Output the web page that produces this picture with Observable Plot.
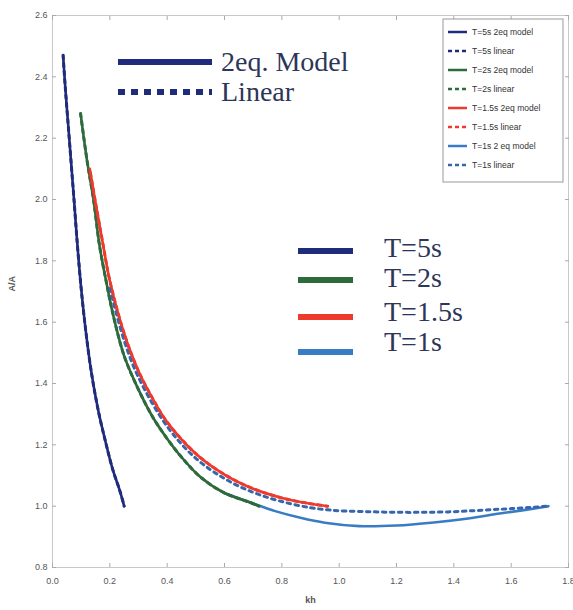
<!DOCTYPE html>
<html><head><meta charset="utf-8">
<script src="https://cdn.jsdelivr.net/npm/d3@7"></script>
<script src="https://cdn.jsdelivr.net/npm/@observablehq/plot@0.6"></script>
<style>
body{margin:0;background:#fff;}
#chart{position:relative;width:573px;height:610px;}
</style></head><body><div id="chart"></div>
<script>
// ---- data ----
const xTicks = [0, 0.2, 0.4, 0.6, 0.8, 1, 1.2, 1.4, 1.6, 1.8];
const yTicks = [0.8, 1, 1.2, 1.4, 1.6, 1.8, 2, 2.2, 2.4, 2.6];

// T=5s
const kh5 = [0.037, 0.045, 0.055, 0.065, 0.075, 0.087, 0.1, 0.115, 0.135, 0.16, 0.185, 0.21, 0.235, 0.25];
const a5Model = [2.47, 2.36, 2.24, 2.12, 2.0, 1.85, 1.71, 1.58, 1.44, 1.31, 1.21, 1.12, 1.05, 1.0];
const a5Linear = [2.47, 2.36, 2.24, 2.12, 2.0, 1.85, 1.71, 1.58, 1.44, 1.31, 1.21, 1.12, 1.05, 1.0];

// T=2s
const kh2 = [0.098, 0.12, 0.143, 0.164, 0.19, 0.21, 0.25, 0.3, 0.35, 0.4, 0.45, 0.516, 0.6, 0.69, 0.72];
const a2Model = [2.28, 2.13, 2.0, 1.85, 1.72, 1.63, 1.49, 1.38, 1.29, 1.22, 1.16, 1.095, 1.043, 1.012, 1.0];
const a2Linear = [2.28, 2.13, 2.0, 1.85, 1.72, 1.63, 1.49, 1.38, 1.29, 1.22, 1.16, 1.095, 1.043, 1.012, 1.0];

// T=1.5s
const kh15 = [0.13, 0.15, 0.175, 0.2, 0.25, 0.3, 0.35, 0.4, 0.5, 0.6, 0.7, 0.8, 0.9, 0.96];
const a15Model = [2.10, 1.99, 1.86, 1.735, 1.563, 1.44, 1.35, 1.274, 1.171, 1.103, 1.057, 1.027, 1.008, 1.0];
const a15Linear = [2.10, 1.99, 1.86, 1.735, 1.563, 1.44, 1.35, 1.274, 1.171, 1.103, 1.057, 1.027, 1.008, 1.0];

// T=1s
const kh1Model = [0.6, 0.69, 0.78, 0.865, 0.95, 1.07, 1.2, 1.33, 1.45, 1.56, 1.65, 1.73];
const a1Model = [1.043, 1.012, 0.983, 0.962, 0.946, 0.935, 0.937, 0.947, 0.96, 0.976, 0.988, 1.0];
const kh1Linear = [0.2, 0.25, 0.3, 0.4, 0.5, 0.6, 0.7, 0.8, 0.9, 0.96, 1.0, 1.1, 1.2, 1.3, 1.4, 1.5, 1.6, 1.73];
const a1Linear = [1.71, 1.54, 1.42, 1.26, 1.156, 1.09, 1.045, 1.015, 0.995, 0.988, 0.985, 0.982, 0.98, 0.98, 0.982, 0.987, 0.992, 1.0];

const legendLabels = ["T=5s 2eq model", "T=5s linear", "T=2s 2eq model", "T=2s linear",
  "T=1.5s 2eq model", "T=1.5s linear", "T=1s 2 eq model", "T=1s linear"];
const periodLabels = ["T=5s", "T=2s", "T=1.5s", "T=1s"];
const typeLabels = ["2eq. Model", "Linear"];

// ---- styles ----
const navy = "#1f2c7c", green = "#2d6a3c", red = "#ee3a2c", blue = "#3a7cc4", blueDot = "#3566ae";
const periodColors = [navy, green, red, blue];
const legendColors = [navy, navy, green, green, red, red, blue, blueDot];

function rows(kh, a) { return kh.map((k, i) => ({kh: k, a: a[i]})); }
const dash = "3.5,4.5";

const lineOpts = (stroke, dashed) => ({x: "kh", y: "a", stroke, strokeWidth: dashed ? 3 : 2.6,
  curve: "catmull-rom", strokeDasharray: dashed ? dash : null});

const plot = Plot.plot({
  width: 573, height: 610,
  marginLeft: 52, marginRight: 5, marginTop: 15, marginBottom: 43,
  style: {fontFamily: "Liberation Sans, Arial, sans-serif", background: "#fff"},
  x: {domain: [0, 1.8]},
  y: {domain: [0.8, 2.6]},
  marks: [
    Plot.frame({stroke: "#c8c8c8"}),
    Plot.axisX({ticks: xTicks, tickSize: 0, tickPadding: 10, fontSize: 9, color: "#555", label: null}),
    Plot.axisX({ticks: xTicks, tickSize: -4, text: null, label: null, stroke: "#aaa"}),
    Plot.axisX({anchor: "top", ticks: xTicks, tickSize: -4, text: null, label: null, stroke: "#aaa"}),
    Plot.axisY({ticks: yTicks, tickSize: 0, tickPadding: 5, fontSize: 9, color: "#555", label: null}),
    Plot.axisY({ticks: yTicks, tickSize: -4, text: null, label: null, stroke: "#aaa"}),
    Plot.axisY({anchor: "right", ticks: yTicks, tickSize: -4, text: null, label: null, stroke: "#aaa"}),
    Plot.text(["A/A"], {frameAnchor: "left", dx: -40, rotate: -90, fontSize: 9, fontWeight: "bold", fill: "#555"}),
    Plot.text(["kh"], {frameAnchor: "bottom", dy: 35, fontSize: 9, fontWeight: "bold", fill: "#555"}),
    // curves
    Plot.line(rows(kh1Model, a1Model), lineOpts(blue, false)),
    Plot.line(rows(kh5, a5Model), lineOpts(navy, false)),
    Plot.line(rows(kh5, a5Linear), lineOpts(navy, true)),
    Plot.line(rows(kh2, a2Model), lineOpts(green, false)),
    Plot.line(rows(kh2, a2Linear), lineOpts(green, true)),
    Plot.line(rows(kh15, a15Model), lineOpts(red, false)),
    Plot.line(rows(kh1Linear, a1Linear), lineOpts(blueDot, true)),
    Plot.line(rows(kh15, a15Linear), {...lineOpts(red, true), strokeDashoffset: 4})
  ]
});
document.getElementById("chart").appendChild(plot);

// ---- annotations drawn into the plot svg ----
const svg = d3.select(plot);
const serif = "Liberation Serif, 'DejaVu Serif', serif";
const inkText = "#2c3658";

// type key (2eq / Linear)
const tk = svg.append("g").attr("text-anchor", "start");
typeLabels.forEach((lab, i) => {
  const y = 62 + i * 30;
  tk.append("line").attr("x1", 118).attr("x2", 212).attr("y1", y).attr("y2", y)
    .attr("stroke", navy).attr("stroke-width", 6)
    .attr("stroke-dasharray", i === 0 ? null : "7,6");
  tk.append("text").attr("x", 221).attr("y", y + 9).text(lab).attr("text-anchor", "start")
    .attr("font-family", serif).attr("font-size", 28).attr("fill", inkText);
});

// period key
const pk = svg.append("g").attr("text-anchor", "start");
const lineYs = [251, 280, 317, 352];
const textYs = [257, 287, 321, 351];
periodLabels.forEach((lab, i) => {
  pk.append("line").attr("x1", 298).attr("x2", 353).attr("y1", lineYs[i]).attr("y2", lineYs[i])
    .attr("stroke", periodColors[i]).attr("stroke-width", 6);
  pk.append("text").attr("x", 384).attr("y", textYs[i]).text(lab).attr("text-anchor", "start")
    .attr("font-family", serif).attr("font-size", 28).attr("fill", inkText);
});

// matlab-style legend box
const lg = svg.append("g").attr("text-anchor", "start");
lg.append("rect").attr("x", 443).attr("y", 19).attr("width", 120).attr("height", 163)
  .attr("fill", "#fff").attr("stroke", "#999").attr("stroke-width", 1);
legendLabels.forEach((lab, i) => {
  const y = 32 + i * 19;
  lg.append("line").attr("x1", 448).attr("x2", 467).attr("y1", y).attr("y2", y)
    .attr("stroke", legendColors[i]).attr("stroke-width", 2.5)
    .attr("stroke-dasharray", i % 2 === 1 ? "4,3" : null);
  lg.append("text").attr("x", 472).attr("y", y + 3).text(lab).attr("text-anchor", "start")
    .attr("font-family", "Liberation Sans, Arial, sans-serif").attr("font-size", 8.5).attr("fill", "#333");
});
</script></body></html>
